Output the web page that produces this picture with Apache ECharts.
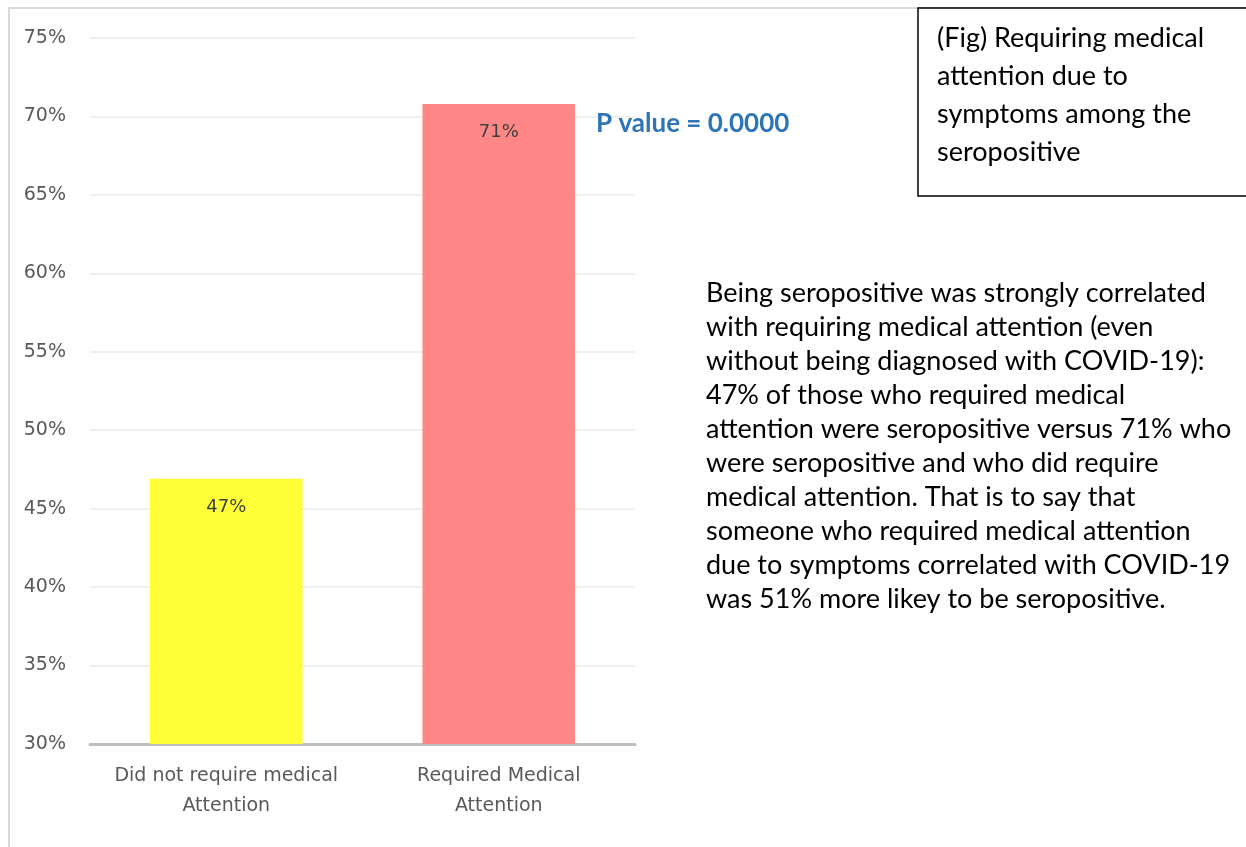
<!DOCTYPE html>
<html>
<head>
<meta charset="utf-8">
<script src="https://cdn.jsdelivr.net/npm/echarts@6/dist/echarts.min.js"></script>
<style>
  html, body { margin: 0; padding: 0; background: #ffffff; }
  #chart { width: 1246px; height: 847px; }
</style>
</head>
<body>
<div id="chart"></div>
<script>
// data
var categories = ['Did not require medical\nAttention', 'Required Medical\nAttention']
var values = [46.9, 70.8]
var barColors = ['#ffff38', '#ff8787']
var yMin = 30
var yMax = 75
var yStep = 5

var pValueText = 'P value = 0.0000'
var figTitle = '(Fig) Requiring medical\nattention due to\nsymptoms among the\nseropositive'
var noteLines = [
  'Being seropositive was strongly correlated',
  'with requiring medical attention (even',
  'without being diagnosed with COVID-19):',
  '47% of those who required medical',
  'attention were seropositive versus 71% who',
  'were seropositive and who did require',
  'medical attention. That is to say that',
  'someone who required medical attention',
  'due to symptoms correlated with COVID-19',
  'was 51% more likey to be seropositive.'
]

var myChart = echarts.init(document.getElementById('chart'))

var option = {
  animation: false,
  backgroundColor: '#ffffff',
  grid: {
    left: 90,
    right: 611,
    top: 38,
    bottom: 103,
    containLabel: false
  },
  xAxis: {
    type: 'category',
    data: categories,
    axisTick: { show: false },
    axisLine: { lineStyle: { color: '#bfbfbf', width: 3 } },
    axisLabel: {
      color: '#595959',
      fontFamily: 'DejaVu Sans',
      fontSize: 19,
      lineHeight: 30,
      margin: 17,
      interval: 0
    }
  },
  yAxis: {
    type: 'value',
    min: yMin,
    max: yMax,
    interval: yStep,
    axisLine: { show: false },
    axisTick: { show: false },
    splitLine: { lineStyle: { color: '#f0f0f0', width: 2 } },
    axisLabel: {
      color: '#595959',
      fontFamily: 'DejaVu Sans',
      fontSize: 19,
      margin: 24,
      formatter: function (v) { return v + '%' }
    }
  },
  series: [
    {
      type: 'bar',
      barWidth: '56%',
      data: values.map(function (v, i) {
        return { value: v, itemStyle: { color: barColors[i] } }
      }),
      label: {
        show: true,
        position: 'insideTop',
        distance: 19,
        color: '#404040',
        fontFamily: 'DejaVu Sans',
        fontSize: 18,
        formatter: function (p) { return Math.round(p.value) + '%' }
      }
    }
  ],
  graphic: [
    // chart area border
    {
      type: 'rect',
      shape: { x: 9, y: 8, width: 1300, height: 900 },
      style: { fill: 'none', stroke: '#d9d9d9', lineWidth: 2 },
      z: 1
    },
    {
      type: 'text',
      left: 596,
      top: 111,
      z: 100,
      style: {
        text: pValueText,
        fill: '#2e75b6',
        fontFamily: 'Lato',
        fontWeight: 'bold',
        fontSize: 26
      }
    },
    {
      type: 'rect',
      shape: { x: 918, y: 8, width: 400, height: 188 },
      style: { fill: '#ffffff', stroke: '#000000', lineWidth: 1.5 },
      z: 10
    },
    {
      type: 'text',
      left: 937,
      top: 19,
      z: 11,
      style: {
        text: figTitle,
        fill: '#000000',
        fontFamily: 'Lato',
        fontSize: 27,
        lineHeight: 38
      }
    },
    {
      type: 'text',
      left: 706,
      top: 276,
      style: {
        text: noteLines.join('\n'),
        fill: '#000000',
        fontFamily: 'Lato',
        fontSize: 27,
        lineHeight: 34
      }
    }
  ]
}

myChart.setOption(option)
</script>
</body>
</html>
